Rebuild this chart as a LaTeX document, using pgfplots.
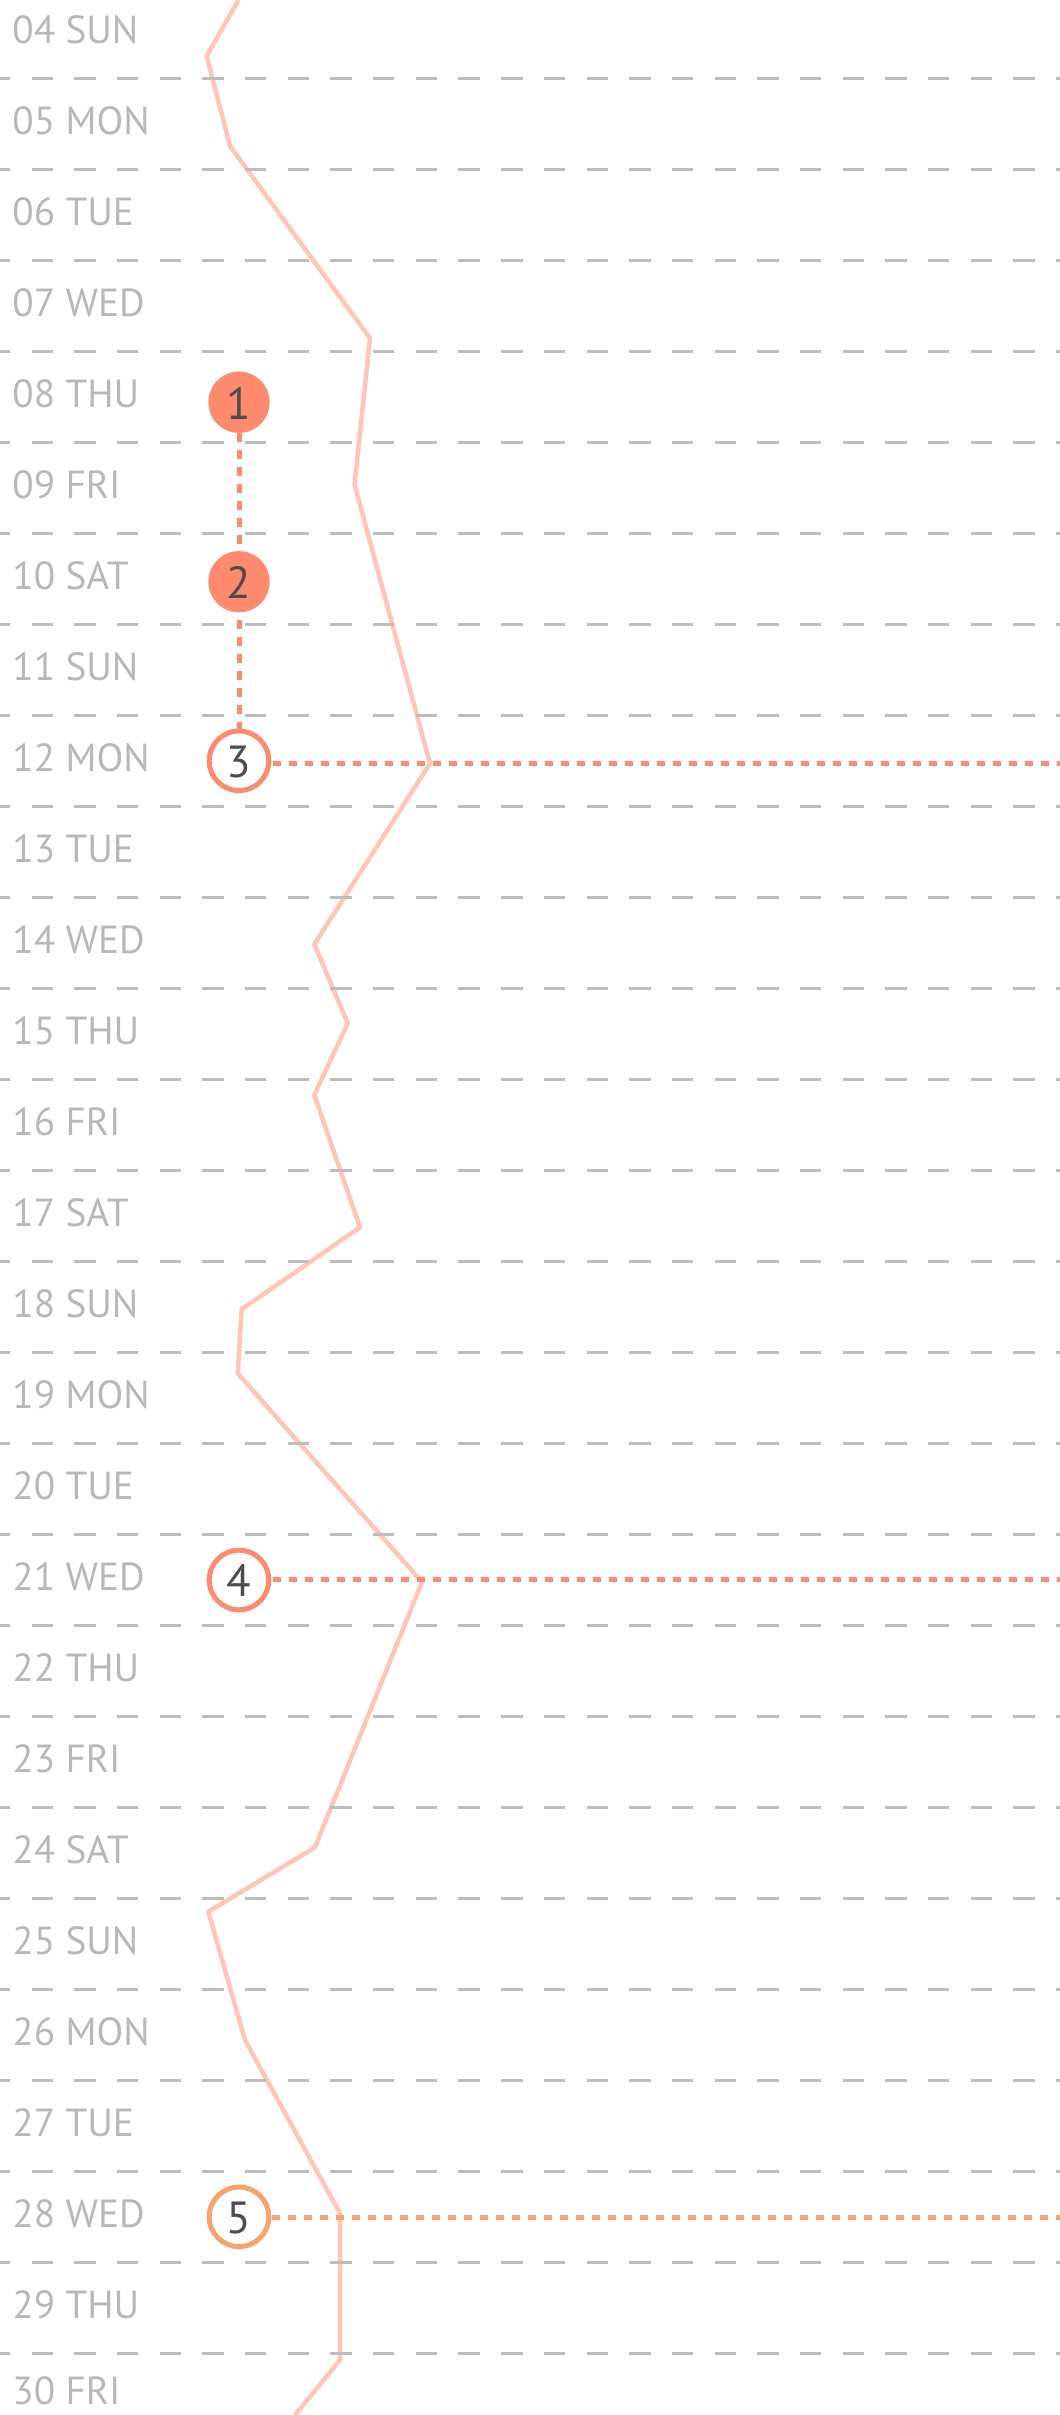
\documentclass[border=0pt]{standalone}
\usepackage{fontspec}
\setmainfont{PT Sans}
\usepackage{pgfplots}
\pgfplotsset{compat=1.18}
\definecolor{coral}{HTML}{FF8A6D}
\definecolor{orng}{HTML}{F6A36E}
\definecolor{salmon}{HTML}{FFC6B8}
\definecolor{gridgray}{HTML}{BDBDBD}
\definecolor{labelgray}{HTML}{B8B8B8}
\definecolor{digit}{HTML}{4D4D4D}
\begin{document}
\begin{tikzpicture}
\begin{axis}[
  width=530pt, height=1207.5pt, scale only axis,
  xmin=0, xmax=1060, ymin=3.6396, ymax=30.178, y dir=reverse,
  hide x axis,
  y axis line style={draw=none},
  ytick={4,...,30},
  yticklabels={04 SUN,05 MON,06 TUE,07 WED,08 THU,09 FRI,10 SAT,11 SUN,12 MON,13 TUE,14 WED,15 THU,16 FRI,17 SAT,18 SUN,19 MON,20 TUE,21 WED,22 THU,23 FRI,24 SAT,25 SUN,26 MON,27 TUE,28 WED,29 THU,\raisebox{2.5pt}{30 FRI}},
  yticklabel style={anchor=base west, inner sep=0pt, xshift=6pt, yshift=-5.3pt, font=\fontsize{19.6}{22}\selectfont, text=labelgray},
  minor ytick={4.5,5.5,...,29.5},
  yminorgrids=true,
  minor grid style={gridgray, line width=1.5pt, dash pattern=on 10.67pt off 10.67pt, dash phase=5.5pt},
  major tick length=0pt, minor tick length=0pt,
  axis on top,
  clip=true,
]
\addplot[salmon, line width=2.25pt, line join=round, no markers] table {
x y
238.5 3.640
206.7 4.255
230 5.244
370 7.357
354.5 8.964
430 12.030
314.3 14.016
347.7 14.885
314.3 15.673
360 17.126
241.7 18.027
237.7 18.731
422 21.024
315 23.940
208.3 24.647
245 26.057
340 27.962
340 29.574
295 30.178
};
\addplot[coral, line width=2.5pt, dash pattern=on 4.25pt off 4.25pt, no markers] coordinates {(239,8.398) (239,11.65)};
\addplot[coral, line width=2.5pt, dash pattern=on 4pt off 4pt, no markers] coordinates {(273,12.035) (1060,12.035)};
\addplot[coral, line width=2.5pt, dash pattern=on 4pt off 4pt, no markers] coordinates {(273,21.0) (1060,21.0)};
\addplot[orng, line width=2.5pt, dash pattern=on 4pt off 4pt, no markers] coordinates {(272,28.005) (1060,28.005)};
\addplot[coral, only marks, mark=*, mark size=15.25pt, mark options={draw=coral, fill=coral, line width=0.1pt},
  nodes near coords, point meta=explicit symbolic,
  nodes near coords style={anchor=center, inner sep=0pt, yshift=-0.5pt, font=\fontsize{22.5}{24}\selectfont, text=digit}]
  coordinates {(239,8.06)[1] (239,10.032)[2]};
\addplot[coral, only marks, mark=*, mark size=14.9pt, mark options={draw=coral, fill=white, line width=2.5pt},
  nodes near coords, point meta=explicit symbolic,
  nodes near coords style={anchor=center, inner sep=0pt, yshift=-0.5pt, font=\fontsize{22.5}{24}\selectfont, text=digit}]
  coordinates {(239,12.0)[3] (239,21.002)[4]};
\addplot[orng, only marks, mark=*, mark size=14.9pt, mark options={draw=orng, fill=white, line width=2.5pt},
  nodes near coords, point meta=explicit symbolic,
  nodes near coords style={anchor=center, inner sep=0pt, yshift=-0.5pt, font=\fontsize{22.5}{24}\selectfont, text=digit}]
  coordinates {(239,28.0)[5]};
\end{axis}
\pgfresetboundingbox
\useasboundingbox (current axis.south west) rectangle (current axis.north east);
\end{tikzpicture}
\end{document}
